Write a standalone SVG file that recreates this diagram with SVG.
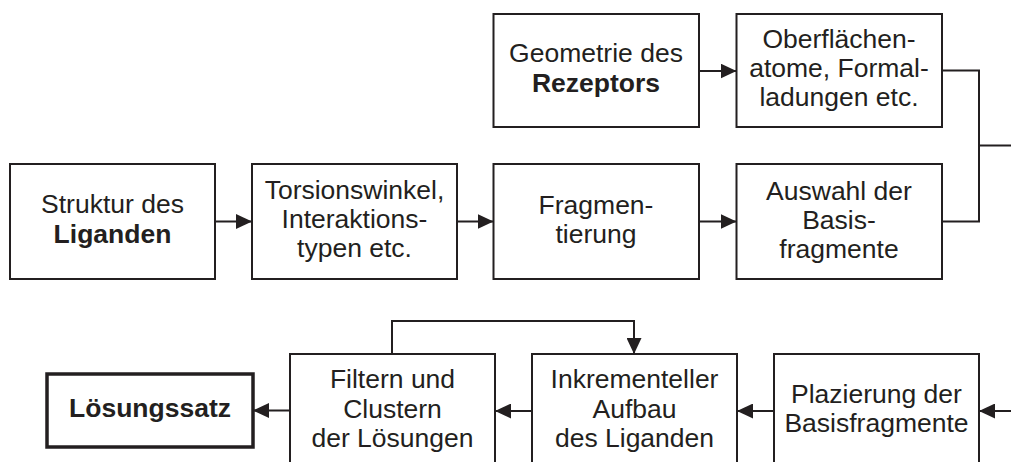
<svg xmlns="http://www.w3.org/2000/svg" width="1011" height="462" viewBox="0 0 1011 462">
  <style>
    .box { fill: #ffffff; stroke: #231f20; stroke-width: 2; }
    .box-strong { fill: #ffffff; stroke: #231f20; stroke-width: 3.5; }
    .lbl { font-family: "Liberation Sans", Arial, sans-serif; font-size: 26.5px; fill: #231f20; text-anchor: middle; }
    .b { font-weight: bold; }
    .wire { fill: none; stroke: #231f20; stroke-width: 2; }
  </style>
  <defs>
    <marker id="arrow" markerWidth="16" markerHeight="15" refX="16" refY="7.5" orient="auto" markerUnits="userSpaceOnUse">
      <path d="M0,0 L16,7.5 L0,15 Z" fill="#231f20"/>
    </marker>
  </defs>

  <rect width="1011" height="462" fill="#ffffff"/>

  <!-- receptor branch -->
  <g id="geometrie">
    <rect class="box" x="493.5" y="14" width="205.5" height="113"/>
    <text class="lbl" x="596" y="62">Geometrie des</text>
    <text class="lbl b" x="596" y="92">Rezeptors</text>
  </g>
  <g id="oberflaechen">
    <rect class="box" x="736.5" y="14" width="205.5" height="113"/>
    <text class="lbl" x="839" y="48">Oberflächen-</text>
    <text class="lbl" x="839" y="77">atome, Formal-</text>
    <text class="lbl" x="839" y="106">ladungen etc.</text>
  </g>

  <!-- ligand branch -->
  <g id="struktur">
    <rect class="box" x="10" y="164" width="205" height="115"/>
    <text class="lbl" x="112.5" y="213">Struktur des</text>
    <text class="lbl b" x="112.5" y="243">Liganden</text>
  </g>
  <g id="torsion">
    <rect class="box" x="252" y="164" width="205" height="115"/>
    <text class="lbl" x="354.5" y="199">Torsionswinkel,</text>
    <text class="lbl" x="354.5" y="228">Interaktions-</text>
    <text class="lbl" x="354.5" y="257">typen etc.</text>
  </g>
  <g id="fragmentierung">
    <rect class="box" x="493.5" y="164" width="205.5" height="115"/>
    <text class="lbl" x="596" y="214">Fragmen-</text>
    <text class="lbl" x="596" y="243">tierung</text>
  </g>
  <g id="auswahl">
    <rect class="box" x="736.5" y="164" width="205.5" height="115"/>
    <text class="lbl" x="839" y="200">Auswahl der</text>
    <text class="lbl" x="839" y="229">Basis-</text>
    <text class="lbl" x="839" y="258">fragmente</text>
  </g>

  <!-- docking / result row -->
  <g id="loesungssatz">
    <rect class="box-strong" x="47" y="374" width="206" height="73"/>
    <text class="lbl b" x="150" y="417">Lösungssatz</text>
  </g>
  <g id="filtern">
    <rect class="box" x="290" y="354" width="205" height="130"/>
    <text class="lbl" x="392.5" y="388">Filtern und</text>
    <text class="lbl" x="392.5" y="418">Clustern</text>
    <text class="lbl" x="392.5" y="447">der Lösungen</text>
  </g>
  <g id="inkrementell">
    <rect class="box" x="532" y="354" width="205" height="130"/>
    <text class="lbl" x="634.5" y="388">Inkrementeller</text>
    <text class="lbl" x="634.5" y="418">Aufbau</text>
    <text class="lbl" x="634.5" y="447">des Liganden</text>
  </g>
  <g id="plazierung">
    <rect class="box" x="774" y="354" width="205" height="130"/>
    <text class="lbl" x="876.5" y="403">Plazierung der</text>
    <text class="lbl" x="876.5" y="432">Basisfragmente</text>
  </g>

  <g id="connectors">
    <line class="wire" x1="699" y1="71" x2="736.5" y2="71" marker-end="url(#arrow)"/>
    <line class="wire" x1="215" y1="221.5" x2="252" y2="221.5" marker-end="url(#arrow)"/>
    <line class="wire" x1="457" y1="221.5" x2="493.5" y2="221.5" marker-end="url(#arrow)"/>
    <line class="wire" x1="699" y1="221.5" x2="736.5" y2="221.5" marker-end="url(#arrow)"/>
    <!-- merge of receptor and ligand data -->
    <polyline class="wire" points="942,70.5 979,70.5 979,221.5 942,221.5"/>
    <line class="wire" x1="979" y1="145.5" x2="1011" y2="145.5"/>
    <!-- bottom row, right to left -->
    <line class="wire" x1="1011" y1="411" x2="979" y2="411" marker-end="url(#arrow)"/>
    <line class="wire" x1="774" y1="411" x2="737" y2="411" marker-end="url(#arrow)"/>
    <line class="wire" x1="532" y1="411" x2="495" y2="411" marker-end="url(#arrow)"/>
    <line class="wire" x1="290" y1="410.5" x2="253" y2="410.5" marker-end="url(#arrow)"/>
    <!-- feedback loop -->
    <polyline class="wire" points="392,354 392,321 634,321 634,354" marker-end="url(#arrow)"/>
  </g>
</svg>
